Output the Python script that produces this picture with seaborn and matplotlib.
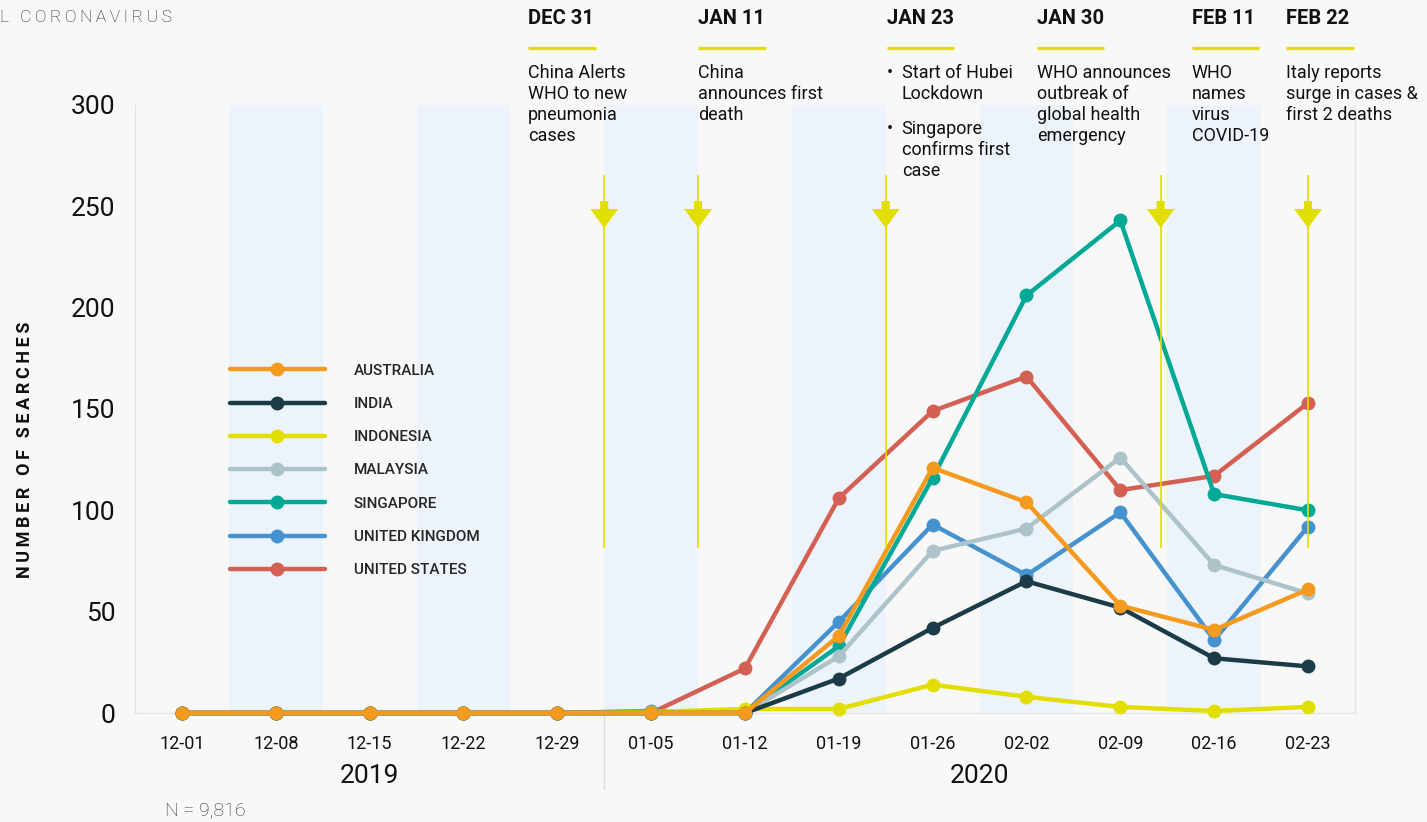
import numpy as np
import pandas as pd
import matplotlib
matplotlib.use("Agg")
import matplotlib.pyplot as plt
import matplotlib.transforms as mtransforms
import seaborn as sns

# Dados (pesquisas semanais por país)
semanas = ['12-01', '12-08', '12-15', '12-22', '12-29', '01-05', '01-12',
           '01-19', '01-26', '02-02', '02-09', '02-16', '02-23']
paises = ['AUSTRALIA', 'INDIA', 'INDONESIA', 'MALAYSIA', 'SINGAPORE',
          'UNITED KINGDOM', 'UNITED STATES']
australia = [0, 0, 0, 0, 0, 0, 0, 38, 121, 104, 53, 41, 61]
india = [0, 0, 0, 0, 0, 0, 0, 17, 42, 65, 52, 27, 23]
indonesia = [0, 0, 0, 0, 0, 0.5, 2, 2, 14, 8, 3, 1, 3]
malaysia = [0, 0, 0, 0, 0, 0, 0, 28, 80, 91, 126, 73, 59]
singapore = [0, 0, 0, 0, 0, 0, 0, 33, 116, 206, 243, 108, 100]
reino_unido = [0, 0, 0, 0, 0, 1, 0, 45, 93, 68, 99, 36, 92]
estados_unidos = [0, 0, 0, 0, 0, 0, 22, 106, 149, 166, 110, 117, 153]
valores = [australia, india, indonesia, malaysia, singapore, reino_unido, estados_unidos]
cores = ['#f49a1f', '#1b3b46', '#e2df00', '#abc3c9', '#00a996', '#4592cf', '#d45f53']

anos = ['2019', '2020']
eventos_x = [3.69, 5.5, 7.51, 9.11, 10.76, 11.77]
eventos_data = ['DEC 31', 'JAN 11', 'JAN 23', 'JAN 30', 'FEB 11', 'FEB 22']
eventos_texto = ['China Alerts\nWHO to new\npneumonia\ncases',
                 'China\nannounces first\ndeath',
                 None,
                 'WHO announces\noutbreak of\nglobal health\nemergency',
                 'WHO\nnames\nvirus\nCOVID-19',
                 'Italy reports\nsurge in cases &\nfirst 2 deaths']
setas_x = [4.5, 5.5, 7.5, 10.43, 12.0]


def espacado(s):
    # espaçamento entre letras com espaço fino
    return '\u2009'.join(s)


sns.set_theme(style='white')
plt.rcParams['font.family'] = ['Roboto', 'DejaVu Sans']
fundo = '#f8f8f8'
amarelo = '#e2df00'

fig = plt.figure(figsize=(14.27, 8.22), dpi=100, facecolor=fundo)
ax = fig.add_axes([0.0946, 0.1326, 0.8549, 0.7397], facecolor=fundo)

x = np.arange(len(semanas))

# Faixas alternadas
for i in x[1::2]:
    ax.axvspan(i - 0.5, i + 0.5, color='#edf3fb', zorder=0, lw=0)

# Linhas (ordem inversa para Austrália ficar por cima)
for nome, vals, cor in reversed(list(zip(paises, valores, cores))):
    df = pd.DataFrame({'x': x, 'y': vals})
    sns.lineplot(data=df, x='x', y='y', color=cor, marker='o', markersize=10,
                 markeredgewidth=0, linewidth=3.2, label=nome, ax=ax,
                 clip_on=False, zorder=3)

ax.set_xlim(-0.5, 12.5)
ax.set_ylim(0, 300)
ax.set_yticks([0, 50, 100, 150, 200, 250, 300])
ax.set_xticks(x)
ax.set_xticklabels(semanas)
ax.tick_params(axis='y', length=0, pad=14, labelsize=19, colors='#111111')
ax.tick_params(axis='x', length=0, pad=16, labelsize=13, colors='#111111')
ax.set_xlabel('')
ax.set_ylabel('')
for lado in ['left', 'bottom', 'right']:
    ax.spines[lado].set_color('#e4e4e4')
    ax.spines[lado].set_linewidth(1)
ax.spines['top'].set_visible(False)

# Linhas de eventos com setas
ax.vlines(setas_x, 81.4, 265.4, color=amarelo, lw=1.2, zorder=5)
for sx in setas_x:
    ax.annotate('', xy=(sx, 239.3), xytext=(sx, 252.6),
                arrowprops=dict(arrowstyle='simple,head_length=1.37,head_width=2.0,tail_width=0.58',
                                color=amarelo, lw=0, shrinkA=0, shrinkB=0, mutation_scale=10),
                zorder=6)

# Legenda
handles, labels = ax.get_legend_handles_labels()
ordem = [labels.index(p) for p in paises]
ax.legend([handles[i] for i in ordem], [labels[i] for i in ordem],
          loc='center left', bbox_to_anchor=(0.0779, 0.399), frameon=False,
          borderpad=0, borderaxespad=0, handlelength=6.2, handletextpad=1.9,
          labelspacing=1.26, prop={'family': 'Roboto', 'size': 11, 'weight': 'medium'})

# Anos e separador
trans_x = mtransforms.blended_transform_factory(ax.transData, ax.transAxes)
ax.plot([4.5, 4.5], [0, -0.125], transform=trans_x, color='#dddddd', lw=1, clip_on=False)
ax.text(2, -0.103, anos[0], transform=trans_x, ha='center', va='center', fontsize=19, color='#111111')
ax.text(8.5, -0.103, anos[1], transform=trans_x, ha='center', va='center', fontsize=19, color='#111111')

# Textos dos eventos
trans_fig = mtransforms.blended_transform_factory(ax.transData, fig.transFigure)


def fy(px):
    return 1 - px / 822


for ex, data, txt in zip(eventos_x, eventos_data, eventos_texto):
    ax.text(ex, fy(18), data, transform=trans_fig, ha='left', va='center',
            fontsize=14.5, fontweight='bold', color='#111111')
    ax.plot([ex, ex + 0.72], [fy(48), fy(48)], transform=trans_fig, color=amarelo,
            lw=2.4, clip_on=False, solid_capstyle='butt')
    if txt is not None:
        ax.text(ex, fy(64), txt, transform=trans_fig, ha='left', va='top',
                fontsize=13, color='#111111', linespacing=1.22)

# JAN 23 com marcadores
ix = eventos_x[2]
for topo, txt in [(64, 'Start of Hubei\nLockdown'), (120, 'Singapore\nconfirms first\ncase')]:
    ax.text(ix, fy(topo), '•', transform=trans_fig, ha='left', va='top', fontsize=13, color='#111111')
    ax.text(ix + 0.16, fy(topo), txt, transform=trans_fig, ha='left', va='top',
            fontsize=13, color='#111111', linespacing=1.22)

fig.text(25 / 1427, fy(450), espacado('NUMBER OF SEARCHES'), rotation=90,
         ha='center', va='center', fontsize=13, fontweight='bold', color='#111111')
fig.text(0.0, fy(18), espacado('L CORONAVIRUS'), ha='left', va='center', fontsize=12.5,
         fontweight='light', color='#222222')
fig.text(165 / 1427, fy(811), 'N = 9,816', ha='left', va='center', fontsize=14,
         fontweight='light', color='#333333')

fig.savefig('out.png', dpi=100, facecolor=fundo)
